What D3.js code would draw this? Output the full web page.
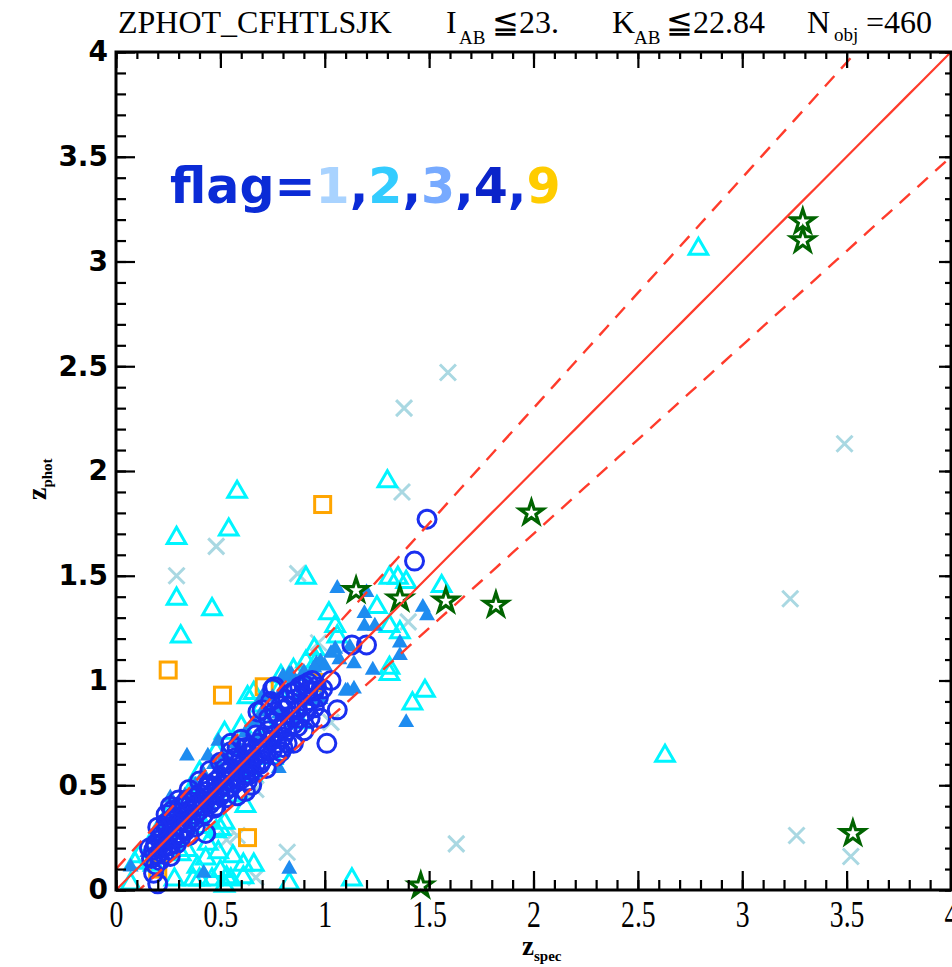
<!DOCTYPE html>
<html><head><meta charset="utf-8">
<script src="https://cdn.jsdelivr.net/npm/d3@7"></script>
<style>body{margin:0;background:#fff;} svg{display:block}</style>
</head><body><svg id="c" width="952" height="967"></svg>
<script>
const tickValues=[0,0.5,1,1.5,2,2.5,3,3.5,4];
const tickLabels=["0","0.5","1","1.5","2","2.5","3","3.5","4"];
const legendParts=[["flag=","#0b2bd6"],["1","#a9d3ff"],[",","#0b2bd6"],["2","#33ccff"],[",","#0b2bd6"],["3","#77aaff"],[",","#0b2bd6"],["4","#0a23c9"],[",","#0b2bd6"],["9","#ffcc00"]];
const scatterFrac=0.1;

// flag 1 : light-blue crosses  [zspec, zphot]
const flag1=[[1.59,2.47],[1.38,2.30],[1.37,1.90],[3.49,2.13],[3.23,1.39],[0.48,1.64],[0.29,1.50],[0.87,1.51],[0.97,1.18],[1.40,1.28],[1.63,0.22],[3.26,0.26],[3.52,0.16],[0.82,0.18],[0.53,0.24],[0.67,0.48],[0.67,0.06],[1.03,0.80],[0.58,0.26]];
// flag 2 : cyan open triangles
const flag2=[[2.79,3.06],[1.30,1.95],[0.58,1.90],[0.29,1.68],[0.54,1.72],[0.29,1.39],[0.46,1.34],[0.31,1.21],[0.91,1.49],[2.63,0.64],[1.48,0.95],[1.42,0.89],[1.56,1.45],[1.35,1.49],[1.39,1.47],[1.31,1.49],[1.02,1.32],[1.05,1.26],[1.25,1.35],[1.31,1.26],[1.36,1.23],[1.06,1.21],[0.96,1.09],[0.91,1.09],[1.31,1.06],[1.31,1.03],[0.79,1.02],[0.66,0.94],[0.63,0.92],[1.13,0.05],[0.83,0.03],[0.09,0.13],[0.07,0.03],[0.11,0.16],
[0.43,0.15],[0.40,0.05],[0.56,0.16],[0.61,0.12],[0.66,0.12],[0.55,0.05],[0.52,0.02],[0.31,0.17],[0.28,0.05],[0.48,0.28],[0.44,0.22],[0.50,0.29],[0.52,0.32],[0.34,0.19],[0.49,0.18],[0.39,0.11],[0.50,0.09],[0.53,0.06],[0.61,0.06],[0.46,0.05],[0.37,0.05],[0.41,0.30],
[0.52,0.75],[0.48,0.66],[0.40,0.56],[0.35,0.46],[0.25,0.36],[0.20,0.28],[0.60,0.78],[0.70,0.88],[0.78,0.95],[0.85,1.05],[0.95,1.15],[0.40,0.34],[0.55,0.45],[0.65,0.55],[0.75,0.63],[0.88,0.80],[0.30,0.24],[0.18,0.12],[0.62,0.40],[0.72,0.78]];
// flag 3 : filled blue triangles
const flag3=[[1.06,1.44],[1.20,1.42],[1.47,1.35],[1.49,1.31],[1.19,1.32],[1.19,1.26],[1.24,1.26],[1.36,1.18],[1.12,1.16],[1.03,1.13],[1.07,1.10],[0.96,1.08],[1.14,1.08],[1.23,1.05],[0.83,1.03],[0.91,1.02],[1.11,0.95],[1.39,0.80],[0.34,0.64],[0.44,0.64],[0.49,0.71],[0.70,0.92],[0.80,1.02],[0.84,1.03],[0.98,1.09],[1.00,1.07],[1.05,1.15],[1.14,0.96],[0.98,0.91],[0.78,0.58],[0.83,0.10],[0.42,0.08],[0.07,0.11],[0.26,0.44],[1.36,1.12],[1.10,0.95],
[0.22,0.30],[0.25,0.35],[0.30,0.40],[0.33,0.45],[0.38,0.50],[0.42,0.55],[0.47,0.60],[0.52,0.64],[0.57,0.70],[0.62,0.75],[0.66,0.80],[0.70,0.85],[0.75,0.92],[0.80,0.96],[0.85,1.00],[0.90,1.04],[0.95,1.06],[0.35,0.30],[0.45,0.40],[0.55,0.50],[0.65,0.60],[0.75,0.70],[0.85,0.80],[0.95,0.90],[0.28,0.22],[0.50,0.58],[0.60,0.66],[0.68,0.74],[0.78,0.84],[0.88,0.93],[0.40,0.44],[0.20,0.20],[0.15,0.18],[0.18,0.25]];
// flag 4 : blue open circles
const flag4=[[1.49,1.77],[1.43,1.57],[1.13,1.17],[1.20,1.17],[1.03,1.00],[0.95,0.95],[0.75,0.96],[1.06,0.86],[1.01,0.70],[0.76,0.97],[0.98,0.82],[0.80,0.79],[0.58,0.68],[0.79,0.66],[0.63,0.52],[0.43,0.27],[0.26,0.16],[0.18,0.08],[0.20,0.03],[0.48,0.40],[0.35,0.26],[0.24,0.32],
[0.17,0.15],[0.18,0.19],[0.19,0.22],[0.20,0.17],[0.21,0.24],[0.22,0.20],[0.22,0.27],[0.23,0.23],[0.24,0.30],[0.25,0.26],[0.25,0.21],[0.26,0.33],[0.27,0.28],[0.28,0.25],[0.28,0.35],[0.29,0.31],[0.30,0.27],[0.30,0.37],[0.31,0.33],[0.32,0.29],[0.33,0.36],[0.33,0.40],[0.34,0.32],[0.35,0.38],[0.36,0.34],[0.36,0.42],[0.37,0.39],[0.38,0.36],[0.38,0.44],[0.39,0.41],[0.40,0.38],[0.40,0.46],[0.41,0.43],[0.42,0.40],[0.43,0.47],[0.44,0.44],[0.45,0.41],[0.45,0.50],[0.46,0.46],[0.47,0.43],[0.48,0.52],[0.49,0.48],[0.50,0.45],[0.50,0.54],[0.51,0.50],[0.52,0.47],[0.53,0.56],[0.54,0.52],[0.55,0.49],[0.55,0.58],[0.56,0.54],[0.57,0.51],[0.58,0.60],[0.59,0.56],[0.60,0.53],[0.60,0.63],[0.61,0.58],[0.62,0.55],[0.63,0.65],[0.64,0.61],[0.65,0.57],[0.65,0.68],[0.66,0.63],[0.67,0.60],[0.68,0.70],[0.69,0.66],[0.70,0.62],[0.70,0.73],[0.71,0.68],[0.72,0.65],[0.73,0.76],[0.74,0.71],[0.75,0.67],[0.75,0.80],[0.76,0.74],[0.77,0.70],[0.78,0.83],[0.79,0.77],[0.80,0.73],[0.80,0.86],[0.81,0.80],[0.82,0.76],[0.83,0.88],[0.84,0.83],[0.85,0.79],[0.86,0.91],[0.87,0.86],[0.88,0.82],[0.89,0.93],[0.90,0.88],[0.91,0.85],[0.92,0.95],[0.93,0.90],[0.95,0.87],[0.96,0.97],[0.74,0.90],[0.70,0.86],[0.60,0.72],[0.55,0.66],[0.50,0.61],[0.45,0.57],[0.40,0.52],[0.35,0.48],[0.30,0.43],[0.27,0.38],[0.65,0.50],[0.58,0.45],[0.72,0.58],[0.85,0.70],[0.90,0.76],[0.80,0.68],[0.84,0.94],[0.88,0.97],[0.92,0.99],
[0.19,0.12],[0.21,0.14],[0.23,0.17],[0.26,0.19],[0.29,0.22],[0.31,0.25],[0.33,0.28],[0.24,0.36],[0.26,0.40],[0.31,0.40],[0.34,0.43],[0.42,0.36],[0.44,0.50],[0.47,0.39],[0.52,0.58],[0.53,0.44],[0.57,0.63],[0.62,0.68],[0.64,0.55],[0.67,0.74],[0.69,0.60],[0.73,0.82],[0.76,0.85],[0.77,0.64],[0.79,0.88],[0.81,0.91],[0.82,0.70],[0.86,0.95],[0.87,0.78],[0.90,0.98],[0.93,0.82],[0.94,1.00],[0.97,0.92],[0.99,0.96],[0.16,0.20],[0.20,0.30],[0.38,0.30],[0.55,0.70],[0.68,0.85],[0.62,0.47]];
// flag 9 : orange squares
const flag9=[[0.99,1.84],[0.25,1.05],[0.51,0.93],[0.71,0.97],[0.63,0.25],[0.20,0.10],[0.95,0.99]];
// green stars
const stars=[[3.29,3.19],[3.29,3.10],[1.99,1.80],[1.82,1.36],[1.58,1.38],[1.36,1.39],[1.15,1.43],[3.53,0.27],[1.46,0.02]];

const svg=d3.select("#c");
const x=d3.scaleLinear().domain([0,4]).range([116,951]);
const y=d3.scaleLinear().domain([0,4]).range([890,52]);

svg.append("defs").append("clipPath").attr("id","clip").append("rect")
  .attr("x",x(0)).attr("y",y(4)).attr("width",x(4)-x(0)).attr("height",y(0)-y(4));

const pts=svg.append("g");
const cs=8;
pts.append("g").selectAll("path").data(flag1).join("path")
  .attr("d",d=>`M${x(d[0])-cs},${y(d[1])-cs}L${x(d[0])+cs},${y(d[1])+cs}M${x(d[0])-cs},${y(d[1])+cs}L${x(d[0])+cs},${y(d[1])-cs}`)
  .attr("stroke","#a9d8e2").attr("stroke-width",3).attr("fill","none");
const tri=d3.symbol().type(d3.symbolTriangle).size(150);
pts.append("g").selectAll("path").data(flag2).join("path")
  .attr("transform",d=>`translate(${x(d[0])},${y(d[1])})`).attr("d",tri)
  .attr("fill","none").attr("stroke","#00f5ff").attr("stroke-width",3);
pts.append("g").selectAll("rect").data(flag9).join("rect")
  .attr("x",d=>x(d[0])-8).attr("y",d=>y(d[1])-8).attr("width",16).attr("height",16)
  .attr("fill","none").attr("stroke","#ffa500").attr("stroke-width",3);
const tri2=d3.symbol().type(d3.symbolTriangle).size(110);
pts.append("g").selectAll("path").data(flag3).join("path")
  .attr("transform",d=>`translate(${x(d[0])},${y(d[1])})`).attr("d",tri2)
  .attr("fill","#1e8cf0");
pts.append("g").selectAll("circle").data(flag4).join("circle")
  .attr("cx",d=>x(d[0])).attr("cy",d=>y(d[1])).attr("r",9)
  .attr("fill","none").attr("stroke","#1a2ff0").attr("stroke-width",3);
const star=d3.symbol().type(d3.symbolStar).size(170);
pts.append("g").selectAll("path").data(stars).join("path")
  .attr("transform",d=>`translate(${x(d[0])},${y(d[1])})`).attr("d",star)
  .attr("fill","none").attr("stroke","#006400").attr("stroke-width",3.2).attr("stroke-linejoin","miter");

const zs=d3.range(0,4.0001,0.05);
const lines=svg.append("g").attr("clip-path","url(#clip)");
const ln=f=>d3.line().x(d=>x(d)).y(d=>y(f(d)))(zs);
lines.append("path").attr("d",ln(d=>d)).attr("stroke","#ff3b2b").attr("stroke-width",2.2).attr("fill","none");
lines.append("path").attr("d",ln(d=>d+scatterFrac*(1+d))).attr("stroke","#ff3b2b").attr("stroke-width",2.4).attr("fill","none").attr("stroke-dasharray","14,10");
lines.append("path").attr("d",ln(d=>d-scatterFrac*(1+d))).attr("stroke","#ff3b2b").attr("stroke-width",2.4).attr("fill","none").attr("stroke-dasharray","14,10");

const minor=d3.range(0,4.0001,0.1);
function styleAx(g){g.select(".domain").remove();g.selectAll("line").attr("stroke","#000").attr("stroke-width",2.2);}
svg.append("g").attr("transform",`translate(0,${y(0)})`).call(d3.axisBottom(x).tickValues(minor).tickSize(-10).tickFormat("")).call(styleAx);
svg.append("g").attr("transform",`translate(0,${y(0)})`).call(d3.axisBottom(x).tickValues(tickValues).tickSize(-19).tickPadding(11).tickFormat((d,i)=>tickLabels[i])).call(styleAx)
  .selectAll("text").attr("font-family","Liberation Serif").attr("font-size",37).attr("fill","#000").attr("transform","scale(0.75,1)");
svg.append("g").attr("transform",`translate(0,${y(4)})`).call(d3.axisTop(x).tickValues(minor).tickSize(-7).tickFormat("")).call(styleAx);
svg.append("g").attr("transform",`translate(0,${y(4)})`).call(d3.axisTop(x).tickValues(tickValues).tickSize(-16).tickFormat("")).call(styleAx);
svg.append("g").attr("transform",`translate(${x(0)},0)`).call(d3.axisLeft(y).tickValues(minor).tickSize(-10).tickFormat("")).call(styleAx);
svg.append("g").attr("transform",`translate(${x(0)},0)`).call(d3.axisLeft(y).tickValues(tickValues).tickSize(-19).tickPadding(8).tickFormat((d,i)=>tickLabels[i])).call(styleAx)
  .selectAll("text").attr("font-family","DejaVu Sans").attr("font-weight","bold").attr("font-size",28).attr("fill","#000");
svg.append("g").attr("transform",`translate(${x(4)},0)`).call(d3.axisRight(y).tickValues(minor).tickSize(-6).tickFormat("")).call(styleAx);
svg.append("g").attr("transform",`translate(${x(4)},0)`).call(d3.axisRight(y).tickValues(tickValues).tickSize(-12).tickFormat("")).call(styleAx);
svg.append("rect").attr("x",x(0)).attr("y",y(4)).attr("width",x(4)-x(0)).attr("height",y(0)-y(4))
  .attr("fill","none").attr("stroke","#000").attr("stroke-width",3);

const tf="Liberation Serif";
function tt(txt,xp,yp,fs){svg.append("text").attr("x",xp).attr("y",yp).attr("font-family",tf).attr("font-size",fs).attr("fill","#000").text(txt);}
tt("ZPHOT_CFHTLSJK",118,33,32);
tt("I",446,33,32);tt("AB",459,44,19);tt("≦23.",492,33,32);
tt("K",612,33,32);tt("AB",634,44,19);tt("≦22.84",666,33,32);
tt("N",807,33,32);tt("obj",834,41,19);tt("=460",866,33,32);

const xl=svg.append("text").attr("x",522).attr("y",955).attr("font-family","Liberation Serif").attr("font-weight","bold").attr("fill","#000");
xl.append("tspan").attr("font-size",27).text("z");
xl.append("tspan").attr("font-size",15).attr("dy",6).text("spec");
const yl=svg.append("text").attr("transform","translate(46,500) rotate(-90)").attr("font-family","Liberation Serif").attr("font-weight","bold").attr("fill","#000");
yl.append("tspan").attr("font-size",28).text("z");
yl.append("tspan").attr("font-size",15).attr("dy",6).text("phot");

const lg=svg.append("text").attr("x",170).attr("y",203).attr("font-family","DejaVu Sans").attr("font-weight","bold").attr("font-size",49);
legendParts.forEach(p=>lg.append("tspan").attr("fill",p[1]).text(p[0]));
</script></body></html>
